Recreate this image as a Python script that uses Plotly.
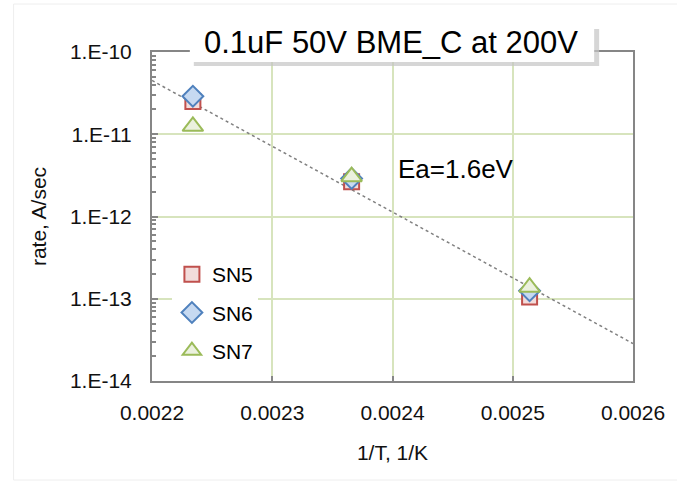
import plotly.graph_objects as go

# data (1/T in 1/K, rate in A/sec)
inv_T = [0.002234, 0.002366, 0.002514]
sn5 = [2.5e-11, 2.65e-12, 1.05e-13]
sn6 = [2.9e-11, 2.9e-12, 1.25e-13]
sn7 = [1.25e-11, 3.05e-12, 1.38e-13]
trend_x = [0.0022, 0.0026]
trend_y = [4.5e-11, 2.85e-14]
y_tickvals = [1e-14, 1e-13, 1e-12, 1e-11, 1e-10]
y_ticktext = ["1.E-14", "1.E-13", "1.E-12", "1.E-11", "1.E-10"]
x_tickvals = [0.0022, 0.0023, 0.0024, 0.0025, 0.0026]
x_ticktext = ["0.0022", "0.0023", "0.0024", "0.0025", "0.0026"]
title_text = "0.1uF 50V BME_C at 200V"
ea_text = "Ea=1.6eV"

minor_vals = [m * 10.0 ** e for e in range(-14, -10) for m in range(2, 10)]

L, R, T, B = 152, 635, 52, 381
W, H = R - L, B - T


def px(x):
    return (x - L) / W


def py(y):
    return (B - y) / H


fig = go.Figure()
fig.add_trace(go.Scatter(x=trend_x, y=trend_y, mode="lines", showlegend=False,
                         line=dict(color="#808080", width=1.5, dash="dot"), hoverinfo="skip"))
fig.add_trace(go.Scatter(x=inv_T, y=sn5, mode="markers", name="SN5", legendgroup="a",
                         marker=dict(symbol="square", size=15, color="#f2dcdb",
                                     line=dict(color="#c0504d", width=2))))
fig.add_trace(go.Scatter(x=inv_T, y=sn6, mode="markers", name="SN6", legendgroup="b",
                         marker=dict(symbol="diamond", size=16, color="#c6d9f1",
                                     line=dict(color="#4f81bd", width=2))))
fig.add_trace(go.Scatter(x=inv_T, y=sn7, mode="markers", name="SN7", legendgroup="c",
                         marker=dict(symbol="triangle-up", size=18, color="#ebf1de",
                                     line=dict(color="#9bbb59", width=2))))

fig.update_layout(
    width=677, height=483,
    margin=dict(l=L, r=677 - R, t=T, b=483 - B),
    paper_bgcolor="white", plot_bgcolor="white",
    font=dict(family="Liberation Sans, Arial", size=21, color="#111"),
    legend=dict(x=px(172), y=py(254), xanchor="left", yanchor="top", bgcolor="white",
                font=dict(size=21, color="#000"), itemwidth=30, tracegroupgap=8,
                traceorder="grouped"),
    showlegend=True,
)
fig.update_xaxes(range=[0.0022, 0.0026], tickvals=x_tickvals, ticktext=x_ticktext,
                 showgrid=True, gridcolor="#d7e4bd", gridwidth=1.5,
                 showline=True, linecolor="#868686", linewidth=2, mirror=True,
                 ticks="inside", ticklen=5, tickcolor="#868686", tickwidth=2,
                 ticklabelstandoff=12,
                 zeroline=False,
                 title=dict(text="1/T, 1/K", font=dict(size=21), standoff=22),
                 tickfont=dict(size=21))
fig.update_yaxes(type="log", range=[-14, -10], tickvals=y_tickvals, ticktext=y_ticktext,
                 showgrid=True, gridcolor="#d7e4bd", gridwidth=1.5,
                 showline=True, linecolor="#868686", linewidth=2, mirror=True,
                 ticks="inside", ticklen=6, tickcolor="#868686", tickwidth=2,
                 ticklabelstandoff=14,
                 minor=dict(tickvals=minor_vals, ticks="inside", ticklen=4,
                            tickcolor="#868686", tickwidth=1.5, showgrid=False),
                 zeroline=False,
                 title=dict(text="rate, A/sec", font=dict(size=21), standoff=18),
                 tickfont=dict(size=21))

# title box with shadow
fig.add_shape(type="rect", xref="paper", yref="paper",
              x0=px(194), x1=px(601), y0=py(66), y1=py(29),
              fillcolor="#c4c4c4", line=dict(width=0), opacity=0.7, layer="above")
fig.add_shape(type="rect", xref="paper", yref="paper",
              x0=px(190), x1=px(596), y0=py(62), y1=py(25),
              fillcolor="white", line=dict(width=0), layer="above")
fig.add_annotation(text=title_text, xref="paper", yref="paper",
                   x=px(392), y=py(43), showarrow=False,
                   font=dict(size=31, color="#000"), xanchor="center", yanchor="middle")
fig.add_annotation(text=ea_text, x=0.0024526, y=-11.42, xref="x", yref="y",
                   showarrow=False, font=dict(size=26, color="#000"),
                   xanchor="center", yanchor="middle")
# faint chart border
fig.add_shape(type="rect", xref="paper", yref="paper",
              x0=px(13), x1=px(690), y0=py(480), y1=py(4),
              line=dict(color="#eeeeee", width=1), layer="below")

fig.write_html("out.html")
